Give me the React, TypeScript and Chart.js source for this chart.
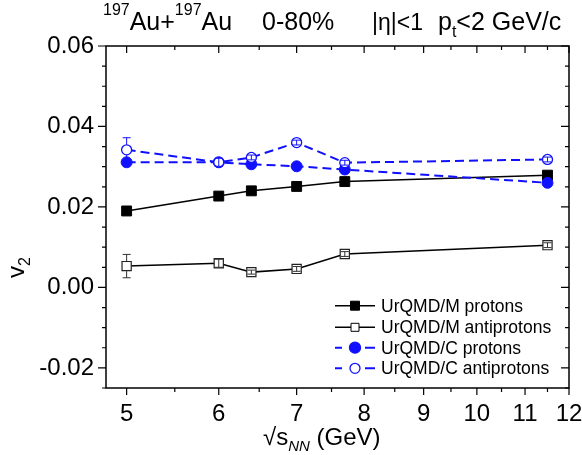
import React, { useEffect, useRef } from "react";
import { Chart, registerables } from "chart.js";

Chart.register(...registerables);

const energies = [5, 6, 6.4, 7, 7.7, 11.5];
const mProtons = [0.019, 0.0227, 0.024, 0.0251, 0.0263, 0.0279];
const mAntiprotons = [0.0053, 0.006, 0.0038, 0.0046, 0.0083, 0.0105];
const mAntiErr = [0.0029, 0.001, 0.0005, 0.0006, 0.0006, 0.0006];
const cProtons = [0.0311, 0.0311, 0.0306, 0.0301, 0.0293, 0.026];
const cAntiprotons = [0.0342, 0.0311, 0.0323, 0.036, 0.031, 0.0318];
const cAntiErr = [0.003, 0.001, 0.0006, 0.0006, 0.0006, 0.0006];

const xTicks = [5, 6, 7, 8, 9, 10, 11, 12];
const xMinorTicks = [5.5, 6.5, 7.5, 8.5, 9.5, 10.5, 11.5];
const yTicks = [-0.02, 0, 0.02, 0.04, 0.06];
const yMinorTicks = [-0.025, -0.015, -0.01, -0.005, 0.005, 0.01, 0.015, 0.025, 0.03, 0.035, 0.045, 0.05, 0.055];

const seriesLabels = ["UrQMD/M protons", "UrQMD/M antiprotons", "UrQMD/C protons", "UrQMD/C antiprotons"];

const FONT = "Arial, 'Liberation Sans', sans-serif";
const BLUE = "#1010ff";

const toPts = (ys: number[]) => energies.map((x, i) => ({ x, y: ys[i] }));

const decorPlugin = {
  id: "decor",
  afterDatasetsDraw(chart: any) {
    const ctx = chart.ctx;
    const xs = chart.scales.x;
    const ys = chart.scales.y;
    const drawErr = (vals: number[], errs: number[], color: string, r: number) => {
      ctx.save();
      ctx.strokeStyle = color;
      ctx.lineWidth = 1;
      vals.forEach((v, i) => {
        const px = xs.getPixelForValue(energies[i]);
        const py = ys.getPixelForValue(v);
        const top = ys.getPixelForValue(v + errs[i]);
        const bot = ys.getPixelForValue(v - errs[i]);
        const e = py - top;
        ctx.beginPath();
        if (e > r) {
          ctx.moveTo(px, top); ctx.lineTo(px, py - r);
          ctx.moveTo(px, bot); ctx.lineTo(px, py + r);
        } else {
          ctx.moveTo(px, top); ctx.lineTo(px, bot);
        }
        ctx.moveTo(px - 4, top); ctx.lineTo(px + 4, top);
        ctx.moveTo(px - 4, bot); ctx.lineTo(px + 4, bot);
        ctx.stroke();
      });
      ctx.restore();
    };
    drawErr(mAntiprotons, mAntiErr, "#333", 5);
    drawErr(cAntiprotons, cAntiErr, BLUE, 5);
  },
  afterDraw(chart: any) {
    const ctx = chart.ctx;
    const a = chart.chartArea;
    const xs = chart.scales.x;
    const ys = chart.scales.y;
    ctx.save();
    ctx.strokeStyle = "#000";
    ctx.lineWidth = 1.5;
    ctx.strokeRect(a.left, a.top, a.right - a.left, a.bottom - a.top);
    ctx.lineWidth = 1.2;
    ctx.beginPath();
    const tickX = (v: number, len: number) => {
      const p = xs.getPixelForValue(v);
      ctx.moveTo(p, a.bottom); ctx.lineTo(p, a.bottom + len);
      ctx.moveTo(p, a.top); ctx.lineTo(p, a.top + len);
    };
    const tickY = (v: number, len: number) => {
      const p = ys.getPixelForValue(v);
      ctx.moveTo(a.left, p); ctx.lineTo(a.left - len, p);
      ctx.moveTo(a.right, p); ctx.lineTo(a.right - len, p);
    };
    xTicks.forEach((v) => tickX(v, 7));
    xMinorTicks.forEach((v) => tickX(v, 4));
    yTicks.forEach((v) => tickY(v, 8));
    yMinorTicks.forEach((v) => tickY(v, 4));
    ctx.stroke();

    ctx.fillStyle = "#000";
    ctx.textBaseline = "alphabetic";
    ctx.textAlign = "left";
    const big = `25px ${FONT}`;
    const small = `16px ${FONT}`;
    let x = 103;
    const put = (t: string, f: string, y: number) => {
      ctx.font = f;
      ctx.fillText(t, x, y);
      x += ctx.measureText(t).width;
    };
    put("197", small, 15);
    put("Au+", big, 30);
    put("197", small, 15);
    put("Au", big, 30);
    x = 262;
    put("0-80%", big, 30);
    x = 372;
    put("|η|<1", `23px ${FONT}`, 30);
    x = 438;
    put("p", big, 30);
    put("t", small, 37);
    put("<2 GeV/c", big, 30);

    x = 263;
    put("√s", `24px ${FONT}`, 445);
    ctx.font = `italic 15px ${FONT}`;
    ctx.fillText("NN", x, 451);
    x += ctx.measureText("NN").width;
    put(" (GeV)", `24px ${FONT}`, 445);

    ctx.save();
    ctx.translate(24, 268);
    ctx.rotate(-Math.PI / 2);
    ctx.font = `24px ${FONT}`;
    const vw = ctx.measureText("v").width;
    ctx.fillText("v", -vw / 2 - 4, 0);
    ctx.font = small;
    ctx.fillText("2", vw / 2 - 4, 6);
    ctx.restore();

    const rows = [305.7, 327.3, 347.7, 368.3];
    const lx0 = 335, lx1 = 375, mx = 355;
    rows.forEach((ry, i) => {
      const blue = i >= 2;
      const col = blue ? BLUE : "#000";
      ctx.strokeStyle = col;
      ctx.lineWidth = blue ? 2 : 1.5;
      ctx.beginPath();
      if (blue) {
        ctx.moveTo(lx0, ry); ctx.lineTo(lx0 + 7, ry);
        ctx.moveTo(lx1 - 10, ry); ctx.lineTo(lx1, ry);
      } else {
        ctx.moveTo(lx0, ry); ctx.lineTo(lx1, ry);
      }
      ctx.stroke();
      ctx.beginPath();
      if (i < 2) {
        const s = i === 0 ? 9 : 8;
        ctx.rect(mx - s / 2, ry - s / 2, s, s);
        ctx.fillStyle = i === 0 ? "#000" : "#fff";
        ctx.fill();
        ctx.lineWidth = 1;
        ctx.strokeStyle = "#000";
        ctx.stroke();
      } else {
        ctx.arc(mx, ry, i === 2 ? 5.5 : 5, 0, Math.PI * 2);
        ctx.fillStyle = i === 2 ? BLUE : "#fff";
        ctx.fill();
        ctx.lineWidth = 1.3;
        ctx.strokeStyle = BLUE;
        ctx.stroke();
      }
      ctx.fillStyle = "#000";
      ctx.font = `17.5px ${FONT}`;
      ctx.textBaseline = "middle";
      ctx.fillText(seriesLabels[i], 381, ry + 1);
      ctx.textBaseline = "alphabetic";
    });
    ctx.restore();
  },
};

export default function App() {
  const ref = useRef<HTMLCanvasElement>(null);
  useEffect(() => {
    document.body.style.margin = "0";
    const chart = new Chart(ref.current as HTMLCanvasElement, {
      type: "line",
      data: {
        datasets: [
          {
            label: seriesLabels[0],
            data: toPts(mProtons),
            borderColor: "#000",
            borderWidth: 1.5,
            pointStyle: "rect",
            pointRadius: 7,
            pointBackgroundColor: "#000",
            pointBorderColor: "#000",
            pointBorderWidth: 1,
            order: 4,
          },
          {
            label: seriesLabels[1],
            data: toPts(mAntiprotons),
            borderColor: "#000",
            borderWidth: 1.5,
            pointStyle: "rect",
            pointRadius: 6.5,
            pointBackgroundColor: "#fff",
            pointBorderColor: "#222",
            pointBorderWidth: 1.2,
            order: 3,
          },
          {
            label: seriesLabels[2],
            data: toPts(cProtons),
            borderColor: BLUE,
            borderWidth: 2,
            borderDash: [9, 5],
            pointStyle: "circle",
            pointRadius: 5.5,
            pointBackgroundColor: BLUE,
            pointBorderColor: BLUE,
            pointBorderWidth: 1,
            order: 2,
          },
          {
            label: seriesLabels[3],
            data: toPts(cAntiprotons),
            borderColor: BLUE,
            borderWidth: 2,
            borderDash: [9, 5],
            pointStyle: "circle",
            pointRadius: 5,
            pointBackgroundColor: "#fff",
            pointBorderColor: BLUE,
            pointBorderWidth: 1.3,
            order: 1,
          },
        ],
      },
      options: {
        animation: false,
        responsive: false,
        devicePixelRatio: 1,
        parsing: false,
        layout: { padding: { top: 46, right: 13, left: 0, bottom: 0 } },
        plugins: { legend: { display: false }, title: { display: false }, tooltip: { enabled: false } },
        scales: {
          x: {
            type: "logarithmic",
            min: 4.8,
            max: 12,
            grid: { display: false, drawTicks: false },
            border: { display: false },
            afterBuildTicks: (s: any) => {
              s.ticks = xTicks.map((v) => ({ value: v }));
            },
            afterFit: (s: any) => {
              s.height = 67;
              s.paddingLeft = 0;
              s.paddingRight = 0;
            },
            ticks: {
              autoSkip: false,
              maxRotation: 0,
              padding: 12,
              color: "#000",
              font: { size: 24, family: FONT },
              callback: (v: any) => String(v),
            },
          },
          y: {
            type: "linear",
            min: -0.025,
            max: 0.06,
            grid: { display: false, drawTicks: false },
            border: { display: false },
            afterBuildTicks: (s: any) => {
              s.ticks = yTicks.map((v) => ({ value: v }));
            },
            afterFit: (s: any) => {
              s.width = 106;
              s.paddingTop = 0;
              s.paddingBottom = 0;
            },
            ticks: {
              padding: 12,
              color: "#000",
              font: { size: 24, family: FONT },
              callback: (v: any) => Number(v).toFixed(2),
            },
          },
        },
      },
      plugins: [decorPlugin],
    } as any);
    return () => chart.destroy();
  }, []);
  return (
    <div style={{ position: "absolute", left: 0, top: 0, width: 582, height: 455, background: "#fff" }}>
      <canvas ref={ref} width={582} height={455} />
    </div>
  );
}
